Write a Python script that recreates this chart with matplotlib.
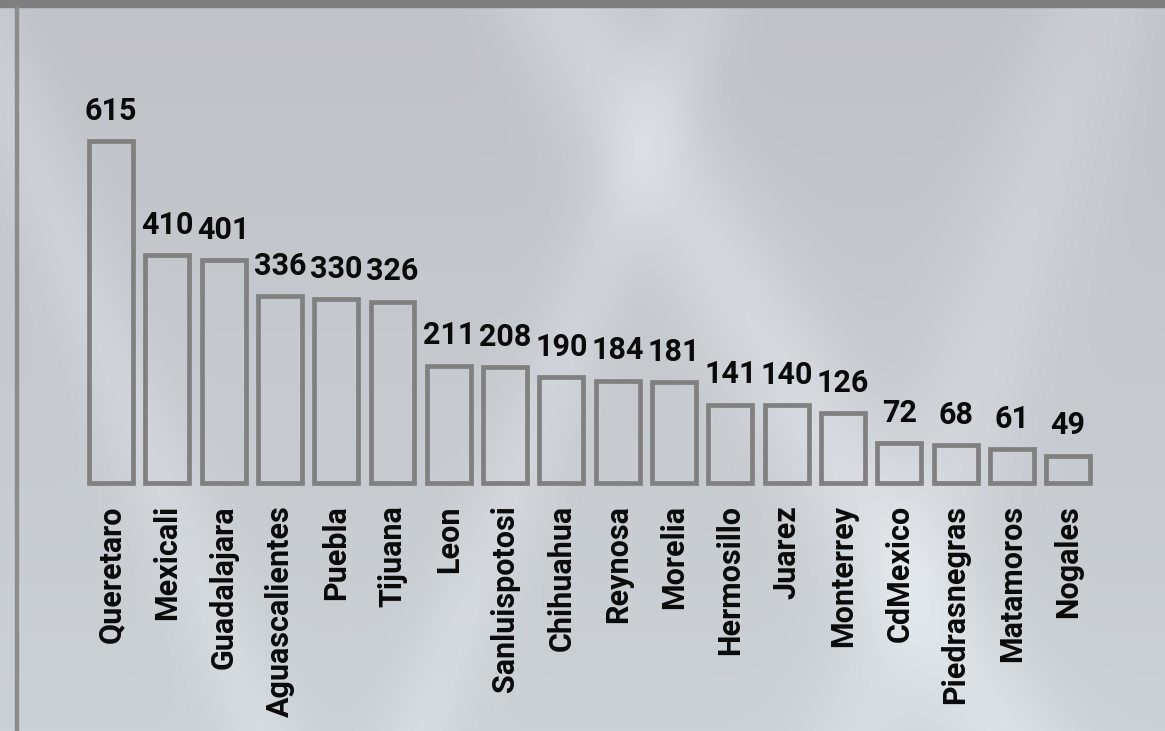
import matplotlib.pyplot as plt
import numpy as np

cities = ['Queretaro', 'Mexicali', 'Guadalajara', 'Aguascalientes', 'Puebla',
          'Tijuana', 'Leon', 'Sanluispotosi', 'Chihuahua', 'Reynosa', 'Morelia',
          'Hermosillo', 'Juarez', 'Monterrey', 'CdMexico', 'Piedrasnegras',
          'Matamoros', 'Nogales']
counts = [615, 410, 401, 336, 330, 326, 211, 208, 190, 184, 181,
          141, 140, 126, 72, 68, 61, 49]

W, H = 1165, 731
fig = plt.figure(figsize=(W / 100, H / 100), dpi=100)

# soft grey background with a few blurred light streaks
bg = fig.add_axes([0, 0, 1, 1], zorder=0)
yy, xx = np.mgrid[0:H, 0:W].astype(float)
base = np.zeros((H, W, 3))
top = np.array([0.75, 0.76, 0.78])
bot = np.array([0.80, 0.82, 0.84])
t = (yy / H)[..., None]
base[:] = top * (1 - t) + bot * t
def streak(x0, y0, x1, y1, width, amount):
    dx, dy = x1 - x0, y1 - y0
    n = np.hypot(dx, dy)
    d = np.abs((xx - x0) * dy - (yy - y0) * dx) / n
    return amount * np.exp(-(d / width) ** 2)
glow = (streak(560, 0, 1000, 731, 60, 0.06) + streak(700, 0, 420, 731, 40, 0.04)
        + streak(0, 80, 260, 731, 40, 0.04) + streak(1100, 0, 860, 731, 60, 0.04))
img = np.clip(base + glow[..., None] * np.array([1.0, 1.0, 0.97]), 0, 1)
bg.imshow(img, extent=[0, W, H, 0], aspect='auto')
bg.set_xlim(0, W)
bg.set_ylim(H, 0)
bg.axis('off')
bg.add_patch(plt.Rectangle((0, 0), W, 7, color='#7f7f7f'))
bg.add_patch(plt.Rectangle((15, 7), 2.5, H, color='#8c8c8c'))

plt.rcParams['font.family'] = ['Roboto', 'DejaVu Sans']
ax = fig.add_axes([17 / W, 1 - 483 / H, 1148 / W, 475 / H], zorder=1)
ax.patch.set_alpha(0)
x = np.arange(len(cities))
bars = ax.bar(x, counts, width=0.78, facecolor='none', edgecolor='#808080',
              linewidth=3.4, clip_on=False)
for xi, v in zip(x, counts):
    ax.annotate(str(v), (xi, v), xytext=(0, 11), textcoords='offset points',
                ha='center', va='bottom', fontsize=22, fontweight='bold',
                color='#0a0a0a')
ax.set_xlim(-1.67, 18.72)
ax.set_ylim(0, 854)
ax.set_xticks(x, cities, rotation=90, fontsize=22, fontweight='bold',
              color='#0a0a0a')
ax.tick_params(axis='x', length=0, pad=16)
ax.set_yticks([])
for s in ax.spines.values():
    s.set_visible(False)

fig.savefig('out.png', dpi=100)
